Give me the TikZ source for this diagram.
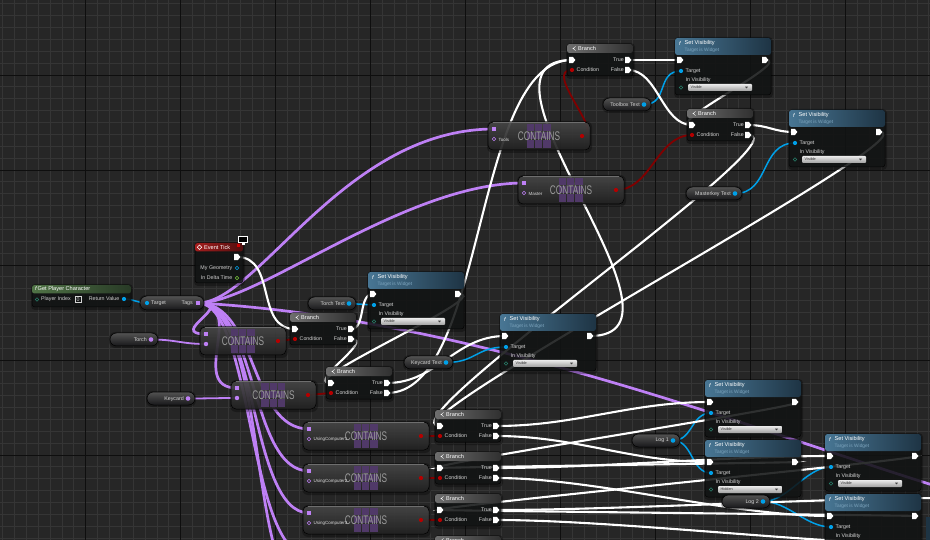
\documentclass[tikz,border=0pt]{standalone}
\usepackage{fontspec}
\setmainfont{Liberation Sans}
\usepackage{graphicx}
\usetikzlibrary{calc}
\pgfdeclarelayer{bg}
\pgfdeclarelayer{wires}
\pgfsetlayers{bg,wires,main}

\definecolor{bgc}{RGB}{38,38,38}
\definecolor{gridminor}{RGB}{53,53,53}
\definecolor{gridmajor}{RGB}{14,14,14}
\definecolor{nodebody}{RGB}{18,20,20}
\definecolor{brL}{RGB}{110,110,110}
\definecolor{brR}{RGB}{48,48,48}
\definecolor{svL}{RGB}{72,118,148}
\definecolor{svR}{RGB}{30,52,68}
\definecolor{svsub}{RGB}{125,165,190}
\definecolor{etL}{RGB}{165,30,30}
\definecolor{etR}{RGB}{80,14,14}
\definecolor{gpL}{RGB}{80,115,70}
\definecolor{gpR}{RGB}{40,58,38}
\definecolor{lbl}{RGB}{212,212,212}
\definecolor{wpurple}{RGB}{190,128,245}
\definecolor{wred}{RGB}{128,0,0}
\definecolor{pred}{RGB}{180,0,0}
\definecolor{wblue}{RGB}{0,160,232}
\definecolor{pgreen}{RGB}{40,125,105}
\definecolor{plime}{RGB}{120,200,60}
\definecolor{ctext}{RGB}{155,155,155}
\definecolor{cicon}{RGB}{80,57,104}
\definecolor{cT}{RGB}{72,72,72}
\definecolor{cB}{RGB}{34,34,34}
\definecolor{ctop}{RGB}{110,110,110}
\definecolor{pT}{RGB}{82,82,82}
\definecolor{pB}{RGB}{24,24,26}
\definecolor{ddT}{RGB}{235,235,235}
\definecolor{ddB}{RGB}{160,160,160}

\tikzset{
  execw/.style={draw=white, line width=2.1pt},
  arrw/.style={draw=wpurple, line width=2.7pt},
  boolw/.style={draw=wred, line width=1.8pt},
  objw/.style={draw=wblue, line width=1.5pt},
  lab/.style={font=\fontsize{5.3}{6}\selectfont, text=lbl, inner sep=0pt},
  hdr/.style={font=\fontsize{5.6}{6}\selectfont, text=white, inner sep=0pt},
  subt/.style={font=\fontsize{4.8}{5}\selectfont, text=svsub, inner sep=0pt},
  body/.style={fill=nodebody, fill opacity=0.82, draw=black, draw opacity=0.8, line width=0.5pt, rounded corners=3pt},
  shadowbox/.style={fill=black, opacity=0.3, rounded corners=4pt},
}

\newcommand{\ExecPin}[2]{\fill[white] (#1-2.8,#2-3.2) -- (#1+0.8,#2-3.2) -- (#1+3.4,#2) -- (#1+0.8,#2+3.2) -- (#1-2.8,#2+3.2) -- cycle;}

\newcommand{\BranchNode}[3]{%
\begin{scope}[shift={(#2,#3)}]
  \fill[shadowbox] (-1,-1) rectangle (68,35);
  \path[body] (0,0) rectangle (66,32);
  \shade[left color=brL, right color=brR, rounded corners=2.5pt] (0,0) rectangle (66,9);
  \draw[white, line width=0.45pt] (8.5,2.4) -- (6.3,4.5) -- (8.5,6.6);
  \fill[white] (6.3,4.5) circle (0.7);
  \node[hdr, anchor=west] at (11,4.7) {Branch};
  \ExecPin{5}{16}
  \ExecPin{61}{16}
  \ExecPin{61}{26}
  \fill[pred] (5,26) circle (2.1);
  \node[lab, anchor=west] at (9.5,26) {Condition};
  \node[lab, anchor=east] at (57,16) {True};
  \node[lab, anchor=east] at (57,26) {False};
  \coordinate (#1-in) at (5,16);
  \coordinate (#1-c) at (5,26);
  \coordinate (#1-t) at (61,16);
  \coordinate (#1-f) at (61,26);
\end{scope}}

\newcommand{\SetVisNode}[4]{%
\begin{scope}[shift={(#2,#3)}]
  \fill[shadowbox] (-1,-1) rectangle (98,60);
  \path[body] (0,0) rectangle (96,57);
  \shade[left color=svL, right color=svR, rounded corners=2.5pt] (0,0) rectangle (96,17);
  \node[hdr, anchor=west] at (4,5.2) {\itshape f};
  \node[hdr, anchor=west] at (9.5,5) {Set Visibility};
  \node[subt, anchor=west] at (9.5,12) {Target is Widget};
  \ExecPin{5}{22}
  \ExecPin{90}{22}
  \fill[wblue] (6,33) circle (2.1);
  \node[lab, anchor=west] at (10.5,33) {Target};
  \node[lab, anchor=west] at (10.5,42) {In Visibility};
  \draw[pgreen, line width=0.6pt] (6,49.5) circle (1.7);
  \shade[top color=ddT, bottom color=ddB, rounded corners=1pt] (13,46) rectangle (77,53);
  \node[font=\fontsize{3.8}{4}\selectfont, text=black!80, anchor=west, inner sep=0pt] at (15.5,49.5) {#4};
  \fill[black!75] (70,48.7) -- (73,48.7) -- (71.5,50.4) -- cycle;
  \coordinate (#1-in) at (5,22);
  \coordinate (#1-out) at (90,22);
  \coordinate (#1-tg) at (6,33);
\end{scope}}

\newcommand{\ContainsNode}[5]{%
\begin{scope}[shift={(#2,#3)}]
  \fill[shadowbox, rounded corners=6pt] (-1,-1) rectangle (#4+2,31);
  \shade[top color=cT, bottom color=cB, rounded corners=5pt, fill opacity=0.9] (0,0) rectangle (#4,28);
  \draw[black, line width=0.5pt, rounded corners=5pt] (0,0) rectangle (#4,28);
  \draw[ctop, line width=0.7pt] (5,0.8) -- (#4-5,0.8);
  \foreach \i in {0,1,2}{\foreach \j in {0,1,2}{
    \fill[cicon] ({#4/2-12.3+\i*8.3},{1.8+\j*8.3}) rectangle ++(7.3,7.3);}}
  \node[font=\fontsize{12.5}{13}\selectfont, text=ctext, inner sep=0pt] at ({#4/2},14.5) {\scalebox{0.66}[1]{CONTAINS}};
  \fill[wpurple] (4,5) rectangle (8,9);
  \draw[wpurple, line width=0.6pt] (6,17) circle (1.7);
  \node[font=\fontsize{4.5}{5}\selectfont, text=lbl!85, anchor=west, inner sep=0pt] at (10.5,17.5) {#5};
  \fill[pred] (#4-8,14) circle (2.1);
  \coordinate (#1-a) at (6,7);
  \coordinate (#1-n) at (6,17);
  \coordinate (#1-r) at (#4-8,14);
\end{scope}}

\newcommand{\PillNode}[6]{%
\begin{scope}[shift={(#2,#3)}]
  \fill[shadowbox, rounded corners=6.5pt] (-1,-1) rectangle (#4+1,15);
  \shade[top color=pT, bottom color=pB, rounded corners=6.5pt] (0,0) rectangle (#4,13);
  \draw[black, line width=0.5pt, rounded corners=6.5pt] (0,0) rectangle (#4,13);
  \node[lab, anchor=east] at (#4-11,6.7) {#5};
  \fill[#6] (#4-7,6.5) circle (2.3);
  \coordinate (#1-p) at (#4-7,6.5);
\end{scope}}

\begin{document}
\begin{tikzpicture}[x=1pt,y=-1pt]
\useasboundingbox (0,0) rectangle (930,540);

\begin{pgfonlayer}{bg}
  \fill[bgc] (0,0) rectangle (930,540);
  \foreach \k in {0,...,80}{\draw[gridminor, line width=0.8pt] ({-9.3+\k*11.875},0) -- ({-9.3+\k*11.875},540);}
  \foreach \k in {0,...,47}{\draw[gridminor, line width=0.8pt] (0,{-20+\k*11.875}) -- (930,{-20+\k*11.875});}
  \foreach \k in {0,...,10}{\draw[gridmajor, line width=0.9pt] ({-9.3+\k*95},0) -- ({-9.3+\k*95},540);}
  \foreach \k in {0,...,6}{\draw[gridmajor, line width=0.9pt] (0,{-20+\k*95}) -- (930,{-20+\k*95});}
\end{pgfonlayer}

% ---------------- nodes ----------------
% Event Tick
\begin{scope}[shift={(195,243)}]
  \fill[shadowbox] (-1,-1) rectangle (50,43);
  \path[body] (0,0) rectangle (48,40);
  \shade[left color=etL, right color=etR, rounded corners=2.5pt] (0,0) rectangle (48,8.5);
  \draw[white, line width=0.5pt] (4.5,2) -- (6.7,4.2) -- (4.5,6.4) -- (2.3,4.2) -- cycle;
  \node[hdr, anchor=west] at (9,4.4) {Event Tick};
  \ExecPin{42}{14}
  \node[lab, anchor=east] at (37.5,25) {My Geometry};
  \draw[wblue, line width=0.6pt] (42,25) circle (1.8);
  \node[lab, anchor=east] at (37.5,35) {In Delta Time};
  \draw[plime, line width=0.6pt] (42,35) circle (1.8);
  \coordinate (et-out) at (42,14);
\end{scope}
\fill[white] (238,236) rectangle (248,243.5);
\fill[black] (239.3,237.3) rectangle (246.7,242.2);
\fill[white] (241.5,243.5) rectangle (244.5,245.5);
\fill[red!80!black] (236.5,244) rectangle (239.5,247);

% Get Player Character
\begin{scope}[shift={(32,285)}]
  \fill[shadowbox] (-1,-1) rectangle (101,25);
  \path[body] (0,0) rectangle (99,22);
  \shade[left color=gpL, right color=gpR, rounded corners=2.5pt] (0,0) rectangle (99,8.5);
  \node[hdr, anchor=west] at (3,4.4) {{\itshape f}\,Get Player Character};
  \draw[pgreen, line width=0.6pt] (5,14.5) circle (1.7);
  \node[lab, anchor=west] at (9,14.5) {Player Index};
  \draw[lbl, line width=0.5pt] (43,11.3) rectangle (49,17.7);
  \node[lab] at (46,14.5) {0};
  \node[lab, anchor=east] at (87.5,14) {Return Value};
  \fill[wblue] (92,14) circle (2.1);
  \coordinate (gpc-rv) at (92,14);
\end{scope}

% Target / Tags
\begin{scope}[shift={(140,296)}]
  \fill[shadowbox, rounded corners=7pt] (-1,-1) rectangle (65,16);
  \shade[top color=pT, bottom color=pB, rounded corners=7pt] (0,0) rectangle (64,14);
  \draw[black, line width=0.5pt, rounded corners=7pt] (0,0) rectangle (64,14);
  \fill[wblue] (7,7) circle (2.1);
  \node[lab, anchor=west] at (11,7) {Target};
  \node[lab, anchor=east] at (53,7) {Tags};
  \fill[wpurple] (55.5,4.8) rectangle (60,9.2);
  \coordinate (tags-t) at (7,7);
  \coordinate (tags-p) at (58,7);
\end{scope}

\ContainsNode{ctools}{488}{122}{102}{Tools}
\ContainsNode{cmaster}{518}{176}{106}{Master}
\ContainsNode{ctorch}{200}{327}{86}{}
\ContainsNode{ckey}{231}{381}{85}{}
\ContainsNode{cuc1}{303}{422}{126}{UsingComputer1}
\ContainsNode{cuc2}{303}{464}{126}{UsingComputer2}
\ContainsNode{cuc3}{303}{506}{126}{UsingComputer3}
\fill[wpurple] (ctorch-n) circle (2.2);
\fill[wpurple] (ckey-n) circle (2.2);

\BranchNode{b1}{567}{44}
\BranchNode{b2}{687}{109}
\BranchNode{b3}{290}{313}
\BranchNode{b4}{326}{367}
\BranchNode{b5}{435}{410}
\BranchNode{b6}{435}{452}
\BranchNode{b7}{435}{494}
\BranchNode{b8}{435}{536}

\SetVisNode{sv1}{675}{38}{Visible}
\SetVisNode{sv2}{789}{110}{Visible}
\SetVisNode{sv3}{368}{272}{Visible}
\SetVisNode{sv4}{500}{314}{Visible}
\SetVisNode{sv5}{705}{380}{Visible}
\SetVisNode{sv6}{705}{440}{Hidden}
\SetVisNode{sv7}{825}{434}{Visible}
\SetVisNode{sv8}{825}{494}{Visible}
\fill[svR] (926,517) rectangle (932,540);

\PillNode{tbtext}{603}{98}{48}{Toolbox Text}{wblue}
\PillNode{mktext}{686}{187}{56}{Masterkey Text}{wblue}
\PillNode{ttext}{308}{297}{48}{Torch Text}{wblue}
\PillNode{ktext}{404}{356}{49}{Keycard Text}{wblue}
\PillNode{log1}{632}{434}{48}{Log 1}{wblue}
\PillNode{log2}{722}{495}{48}{Log 2}{wblue}
\PillNode{torchp}{110}{333}{48}{Torch}{wpurple}
\PillNode{keyp}{147}{392}{48}{Keycard}{wpurple}

\coordinate (offA) at (308,555);
\coordinate (offB) at (308,597);
\coordinate (farR) at (1000,505);
\coordinate (offC) at (945,498);
\coordinate (offD) at (945,545);

% ---------------- wires ----------------
\begin{pgfonlayer}{wires}
  % array (purple)
  \draw[arrw] (tags-p) .. controls +(60,0) and +(-150,0) .. (ctools-a);
  \draw[arrw] (tags-p) .. controls +(60,0) and +(-120,0) .. (cmaster-a);
  \draw[arrw] (tags-p) .. controls +(40,0) and +(-40,0) .. (ctorch-a);
  \draw[arrw] (tags-p) .. controls +(50,0) and +(-50,0) .. (ckey-a);
  \draw[arrw] (tags-p) .. controls +(60,0) and +(-60,0) .. (cuc1-a);
  \draw[arrw] (tags-p) .. controls +(60,0) and +(-60,0) .. (cuc2-a);
  \draw[arrw] (tags-p) .. controls +(60,0) and +(-60,0) .. (cuc3-a);
  \draw[arrw] (tags-p) .. controls +(55,0) and +(-60,0) .. (offA);
  \draw[arrw] (tags-p) .. controls +(70,0) and +(-60,0) .. (offB);
  \draw[arrw] (tags-p) .. controls (500,320) and (800,450) .. (farR);
  \draw[arrw, line width=1.8pt] (torchp-p) .. controls +(25,0) and +(-25,0) .. (ctorch-n);
  \draw[arrw, line width=1.8pt] (keyp-p) .. controls +(20,0) and +(-20,0) .. (ckey-n);
  % object (blue)
  \draw[objw] (gpc-rv) .. controls +(10,0) and +(-10,0) .. (tags-t);
  \draw[objw] (ttext-p) .. controls +(12,0) and +(-12,0) .. (sv3-tg);
  \draw[objw] (ktext-p) .. controls +(30,0) and +(-30,0) .. (sv4-tg);
  \draw[objw] (tbtext-p) .. controls +(25,0) and +(-25,0) .. (sv1-tg);
  \draw[objw] (mktext-p) .. controls +(35,0) and +(-35,0) .. (sv2-tg);
  \draw[objw] (log1-p) .. controls +(20,0) and +(-20,0) .. (sv5-tg);
  \draw[objw] (log1-p) .. controls +(20,0) and +(-20,0) .. (sv6-tg);
  \draw[objw] (log2-p) .. controls +(25,0) and +(-25,0) .. (sv7-tg);
  \draw[objw] (log2-p) .. controls +(25,0) and +(-25,0) .. (sv8-tg);
  % bool (red)
  \draw[boolw] (ctools-r) .. controls +(25,0) and +(-30,0) .. (b1-c);
  \draw[boolw] (cmaster-r) .. controls +(35,0) and +(-35,0) .. (b2-c);
  \draw[boolw] (ctorch-r) -- (b3-c);
  \draw[boolw] (ckey-r) -- (b4-c);
  \draw[boolw] (cuc1-r) -- (b5-c);
  \draw[boolw] (cuc2-r) -- (b6-c);
  \draw[boolw] (cuc3-r) -- (b7-c);
  % exec (white)
  \draw[execw] (et-out) .. controls +(40,0) and +(-40,0) .. (b3-in);
  \draw[execw] (b3-t) .. controls +(15,0) and +(-15,0) .. (sv3-in);
  \draw[execw] (b3-f) .. controls +(25,0) and +(-25,0) .. (b4-in);
  \draw[execw] (sv3-out) .. controls +(40,0) and +(-40,0) .. (b4-in);
  \draw[execw] (b4-t) .. controls +(50,0) and +(-50,0) .. (sv4-in);
  \draw[execw] (b4-f) .. controls +(100,0) and +(-100,0) .. (b1-in);
  \draw[execw] (sv4-out) .. controls +(120,0) and +(-120,0) .. (b1-in);
  \draw[execw] (b1-t) .. controls +(20,0) and +(-20,0) .. (sv1-in);
  \draw[execw] (b1-f) .. controls +(30,0) and +(-30,0) .. (b2-in);
  \draw[execw] (sv1-out) .. controls +(30,0) and +(-30,0) .. (b2-in);
  \draw[execw] (b2-t) .. controls +(20,0) and +(-20,0) .. (sv2-in);
  \draw[execw] (b2-f) .. controls +(60,0) and +(-60,0) .. (b5-in);
  \draw[execw] (sv2-out) .. controls +(60,0) and +(-60,0) .. (b5-in);
  \draw[execw] (b5-t) .. controls +(80,0) and +(-80,0) .. (sv5-in);
  \draw[execw] (b5-f) .. controls +(80,0) and +(-80,0) .. (sv6-in);
  \draw[execw] (sv5-out) .. controls +(40,0) and +(-40,0) .. (b6-in);
  \draw[execw] (sv6-out) .. controls +(40,0) and +(-40,0) .. (b6-in);
  \draw[execw] (b6-t) .. controls +(100,0) and +(-100,0) .. (sv7-in);
  \draw[execw] (b6-f) .. controls +(100,0) and +(-100,0) .. (sv8-in);
  \draw[execw] (sv7-out) .. controls +(40,0) and +(-40,0) .. (b7-in);
  \draw[execw] (sv8-out) .. controls +(40,0) and +(-40,0) .. (b7-in);
  \draw[execw] (b7-t) .. controls +(120,0) and +(-120,0) .. (offC);
  \draw[execw] (b7-f) .. controls +(120,0) and +(-120,0) .. (offD);
\end{pgfonlayer}
\end{tikzpicture}
\end{document}
